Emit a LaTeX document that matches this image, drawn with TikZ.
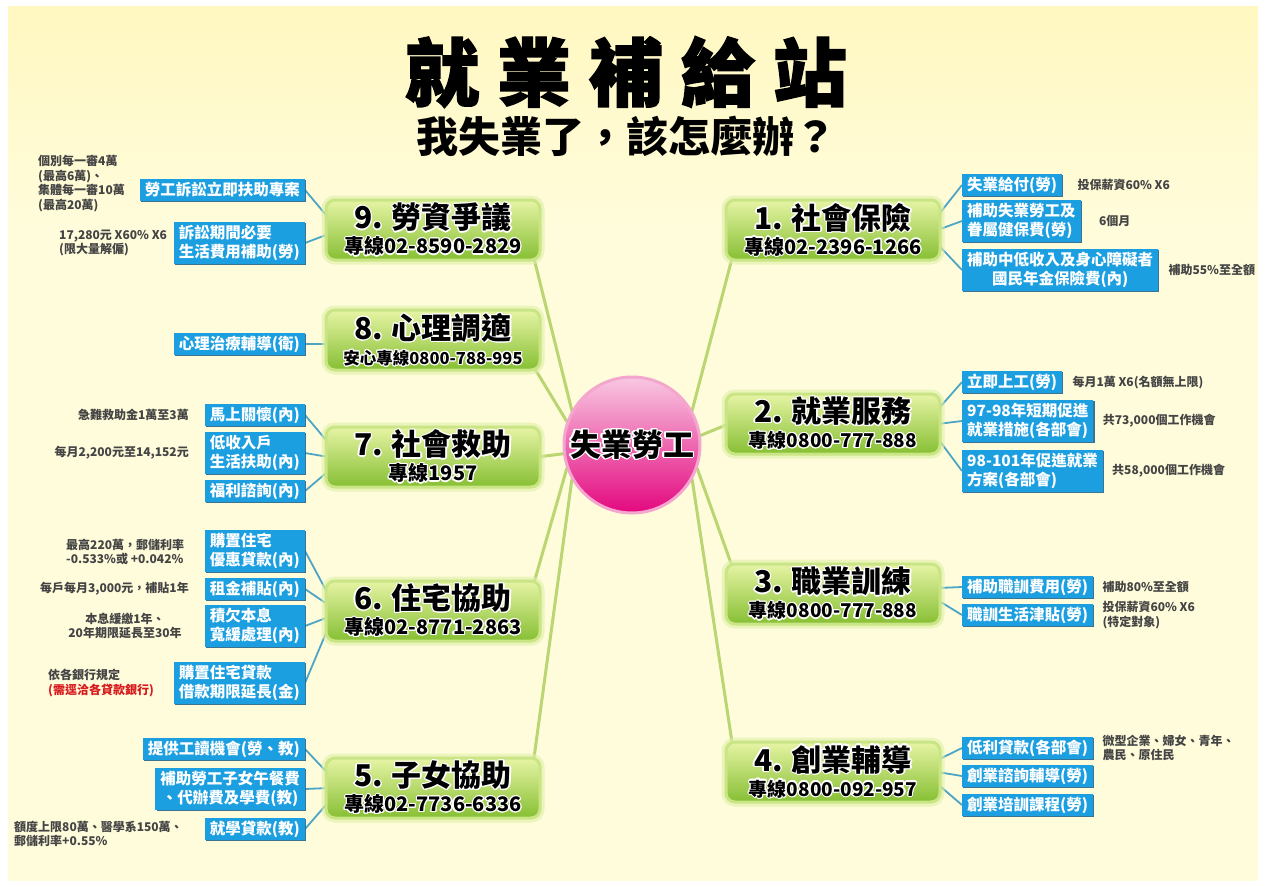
\documentclass[tikz,border=0pt]{standalone}
\usepackage{fontspec}
\setmainfont{Noto Sans CJK TC}
\newfontfamily\titlefont{Noto Sans CJK TC}[BoldFeatures={FakeBold=2}]
\usepackage{contour}
\contourlength{1.1pt}
\usetikzlibrary{shadows,calc}
\pgfdeclarelayer{back}
\pgfdeclarelayer{lines}
\pgfsetlayers{back,lines,main}
\definecolor{bgtop}{HTML}{FFF08C}
\definecolor{bgmid}{HTML}{FFFCDC}
\definecolor{bgbot}{HTML}{FFF3A6}
\definecolor{gtop}{HTML}{E6F4A4}
\definecolor{gbot}{HTML}{86BF33}
\definecolor{gedge}{HTML}{C9E585}
\definecolor{gglow}{HTML}{DDEFA6}
\definecolor{bluebox}{HTML}{1C9FE0}
\definecolor{blueshadow}{HTML}{27648A}
\definecolor{blueline}{HTML}{4DA5C6}
\definecolor{greenline}{HTML}{B9D673}
\definecolor{pinktop}{HTML}{F8C8E2}
\definecolor{pinkmid}{HTML}{F096C6}
\definecolor{pinkbot}{HTML}{E4087F}
\definecolor{pinkedge}{HTML}{F4A6CF}
\definecolor{annoc}{HTML}{444444}
\definecolor{annored}{HTML}{D7191C}
\pgfdeclareverticalshading{bgsh}{100bp}{color(0bp)=(bgbot); color(25bp)=(bgmid); color(62bp)=(bgmid); color(100bp)=(bgtop)}
\newcommand\gtext[3][20]{{\fontsize{30}{34}\selectfont\contour{white}{#2}}\\{\fontsize{#1}{24}\selectfont\contour{white}{#3}}}
\begin{document}
\begin{tikzpicture}[x=1pt,y=-1pt,
  gbox/.style={rounded corners=9pt, minimum width=214pt, minimum height=60pt,
    draw=gedge, line width=3pt, top color=gtop, bottom color=gbot, align=center,
    inner sep=2pt, font=\fontsize{20}{25}\selectfont\bfseries,
    preaction={draw=gglow, line width=9pt, opacity=0.6}},
  bbox/.style={fill=bluebox, text=white, font=\fontsize{15.5}{19}\selectfont\bfseries,
    inner xsep=5pt, inner ysep=3pt, align=left,
    drop shadow={shadow xshift=1.2pt, shadow yshift=-1.2pt, fill=blueshadow, opacity=0.9}},
  bone/.style={fill=bluebox, text=white, font=\fontsize{15.5}{19}\selectfont\bfseries,
    inner xsep=5pt, inner ysep=3pt, text height=13pt, text depth=3pt,
    drop shadow={shadow xshift=1.2pt, shadow yshift=-1.2pt, fill=blueshadow, opacity=0.9}},
  anno/.style={text=annoc, font=\fontsize{12}{14.5}\selectfont\bfseries, inner sep=0pt, align=left},
  bline/.style={draw=blueline, line width=1.8pt},
  gline/.style={draw=greenline, line width=3pt},
  circ/.style={circle, minimum size=136pt, draw=pinkedge, line width=3pt,
    top color=pinktop, middle color=pinkmid, bottom color=pinkbot,
    font=\fontsize{31}{31}\selectfont\bfseries, inner sep=0pt}]
\useasboundingbox (0,0) rectangle (1266,886);
\begin{pgfonlayer}{back}
\fill[white] (0,0) rectangle (1266,886);
\shade[shading=bgsh] (8,6) rectangle (1258,880);
\end{pgfonlayer}

% titles
\node (title) at (626,72) {\titlefont\bfseries\fontsize{74}{74}\selectfont 就\hspace{18pt}業\hspace{18pt}補\hspace{18pt}給\hspace{18pt}站};
\node (sub) at (626,136) {\bfseries\fontsize{42}{42}\selectfont 我失業了，該怎麼辦？};

% centre
\node[circ] (c) at (632,445) {\contour{white}{失業勞工}};

% green boxes
\node[gbox] (g9) at (433,230) {\gtext{9. 勞資爭議}{專線02-8590-2829}};
\node[gbox] (g8) at (433,340) {\gtext[16.5]{8. 心理調適}{安心專線0800-788-995}};
\node[gbox] (g7) at (433,457) {\gtext{7. 社會救助}{專線1957}};
\node[gbox] (g6) at (433,611) {\gtext{6. 住宅協助}{專線02-8771-2863}};
\node[gbox] (g5) at (433,788) {\gtext{5. 子女協助}{專線02-7736-6336}};
\node[gbox] (g1) at (833,230) {\gtext{1. 社會保險}{專線02-2396-1266}};
\node[gbox] (g2) at (833,424) {\gtext[19]{2. 就業服務}{專線0800-777-888}};
\node[gbox] (g3) at (833,594) {\gtext[19]{3. 職業訓練}{專線0800-777-888}};
\node[gbox] (g4) at (833,772) {\gtext[19]{4. 創業輔導}{專線0800-092-957}};

% left blue boxes
\node[bone, anchor=east] (b9a) at (305,190) {勞工訴訟立即扶助專案};
\node[bbox, anchor=east] (b9b) at (305,243) {訴訟期間必要\\生活費用補助(勞)};
\node[bone, anchor=east] (b8a) at (305,344) {心理治療輔導(衛)};
\node[bone, anchor=east] (b7a) at (305,415) {馬上關懷(內)};
\node[bbox, anchor=east] (b7b) at (305,453) {低收入戶\\生活扶助(內)};
\node[bone, anchor=east] (b7c) at (305,491) {福利諮詢(內)};
\node[bbox, anchor=east] (b6a) at (305,551) {購置住宅\\優惠貸款(內)};
\node[bone, anchor=east] (b6b) at (305,589) {租金補貼(內)};
\node[bbox, anchor=east] (b6c) at (305,626) {積欠本息\\寬緩處理(內)};
\node[bbox, anchor=east] (b6d) at (305,683) {購置住宅貸款\\借款期限延長(金)};
\node[bone, anchor=east] (b5a) at (305,749) {提供工讀機會(勞、教)};
\node[bbox, anchor=east, align=center] (b5b) at (305,789) {補助勞工子女午餐費\\、代辦費及學費(教)};
\node[bone, anchor=east] (b5c) at (305,829) {就學貸款(教)};

% right blue boxes
\node[bone, anchor=west] (b1a) at (962,185) {失業給付(勞)};
\node[bbox, anchor=west] (b1b) at (962,221) {補助失業勞工及\\眷屬健保費(勞)};
\node[bbox, anchor=west, align=center] (b1c) at (962,270) {補助中低收入及身心障礙者\\國民年金保險費(內)};
\node[bone, anchor=west] (b2a) at (962,382) {立即上工(勞)};
\node[bbox, anchor=west] (b2b) at (962,421) {97-98年短期促進\\就業措施(各部會)};
\node[bbox, anchor=west] (b2c) at (962,471) {98-101年促進就業\\方案(各部會)};
\node[bone, anchor=west] (b3a) at (962,587) {補助職訓費用(勞)};
\node[bone, anchor=west] (b3b) at (962,615) {職訓生活津貼(勞)};
\node[bone, anchor=west] (b4a) at (962,748) {低利貸款(各部會)};
\node[bone, anchor=west] (b4b) at (962,776) {創業諮詢輔導(勞)};
\node[bone, anchor=west] (b4c) at (962,805) {創業培訓課程(勞)};

% left annotations
\node[anno, anchor=north west] (a9a) at (38,155) {個別每一審4萬\\(最高6萬)、\\集體每一審10萬\\(最高20萬)};
\node[anno, anchor=west] (a9b) at (59,243) {17,280元 X60\% X6\\(限大量解僱)};
\node[anno, anchor=east] (a7a) at (189,415) {急難救助金1萬至3萬};
\node[anno, anchor=east] (a7b) at (189,453) {每月2,200元至14,152元};
\node[anno, anchor=west] (a6a) at (66,552) {最高220萬，郵儲利率\\-0.533\%或 +0.042\%};
\node[anno, anchor=east] (a6b) at (189,589) {每戶每月3,000元，補貼1年};
\node[anno, align=center] (a6c) at (125,626) {本息緩繳1年、\\20年期限延長至30年};
\node[anno, anchor=west] (a6d) at (48,683) {依各銀行規定\\{\color{annored}(需逕洽各貸款銀行)}};
\node[anno, anchor=west] (a5c) at (14,834) {額度上限80萬、醫學系150萬、\\郵儲利率+0.55\%};

% right annotations
\node[anno, anchor=west] (a1a) at ([xshift=15pt]b1a.east) {投保薪資60\% X6};
\node[anno, anchor=west] (a1b) at ([xshift=18pt]b1b.east) {6個月};
\node[anno, anchor=west] (a1c) at ([xshift=10pt]b1c.east) {補助55\%至全額};
\node[anno, anchor=west] (a2a) at ([xshift=10pt]b2a.east) {每月1萬 X6(名額無上限)};
\node[anno, anchor=west] (a2b) at ([xshift=9pt]b2b.east) {共73,000個工作機會};
\node[anno, anchor=west] (a2c) at ([xshift=9pt]b2c.east) {共58,000個工作機會};
\node[anno, anchor=west] (a3a) at ([xshift=9pt]b3a.east) {補助80\%至全額};
\node[anno, anchor=west] (a3b) at ([xshift=9pt]b3b.east) {投保薪資60\% X6\\(特定對象)};
\node[anno, anchor=west] (a4a) at ([xshift=9pt]b4a.east) {微型企業、婦女、青年、\\農民、原住民};

\begin{pgfonlayer}{lines}
% centre to green boxes
\draw[gline] (c.center) -- (c.150) -- ([xshift=-8pt,yshift=5pt]g9.south east);
\draw[gline] (c.center) -- (c.160) -- ([xshift=-8pt,yshift=5pt]g8.south east);
\draw[gline] (c.center) -- ([xshift=-4pt]g7.east);
\draw[gline] (c.center) -- (c.200) -- ([xshift=-8pt,yshift=-5pt]g6.north east);
\draw[gline] (c.center) -- (c.210) -- ([xshift=-8pt,yshift=-5pt]g5.north east);
\draw[gline] (c.center) -- (c.30) -- ([xshift=8pt,yshift=5pt]g1.south west);
\draw[gline] (c.center) -- (c.8) -- ([xshift=4pt]g2.west);
\draw[gline] (c.center) -- (c.-20) -- ([xshift=8pt,yshift=-5pt]g3.north west);
\draw[gline] (c.center) -- (c.-30) -- ([xshift=8pt,yshift=-5pt]g4.north west);
% blue connectors
\draw[bline] (b9a.east) -- ([xshift=4pt,yshift=12pt]g9.west);
\draw[bline] (b9b.east) -- ([xshift=4pt,yshift=-4pt]g9.west);
\draw[bline] (b8a.east) -- ([xshift=4pt,yshift=-4pt]g8.west);
\draw[bline] (b7a.east) -- ([xshift=4pt,yshift=14pt]g7.west);
\draw[bline] (b7b.east) -- ([xshift=4pt]g7.west);
\draw[bline] (b7c.east) -- ([xshift=4pt,yshift=-14pt]g7.west);
\draw[bline] (b6a.east) -- ([xshift=4pt,yshift=16pt]g6.west);
\draw[bline] (b6b.east) -- ([xshift=4pt,yshift=6pt]g6.west);
\draw[bline] (b6c.east) -- ([xshift=4pt,yshift=-6pt]g6.west);
\draw[bline] (b6d.east) -- ([xshift=4pt,yshift=-16pt]g6.west);
\draw[bline] (b5a.east) -- ([xshift=4pt,yshift=14pt]g5.west);
\draw[bline] (b5b.east) -- ([xshift=4pt]g5.west);
\draw[bline] (b5c.east) -- ([xshift=4pt,yshift=-14pt]g5.west);
\draw[bline] (b1a.west) -- ([xshift=-4pt,yshift=14pt]g1.east);
\draw[bline] (b1b.west) -- ([xshift=-4pt]g1.east);
\draw[bline] (b1c.west) -- ([xshift=-4pt,yshift=-14pt]g1.east);
\draw[bline] (b2a.west) -- ([xshift=-4pt,yshift=14pt]g2.east);
\draw[bline] (b2b.west) -- ([xshift=-4pt]g2.east);
\draw[bline] (b2c.west) -- ([xshift=-4pt,yshift=-14pt]g2.east);
\draw[bline] (b3a.west) -- ([xshift=-4pt,yshift=6pt]g3.east);
\draw[bline] (b3b.west) -- ([xshift=-4pt,yshift=-6pt]g3.east);
\draw[bline] (b4a.west) -- ([xshift=-4pt,yshift=12pt]g4.east);
\draw[bline] (b4b.west) -- ([xshift=-4pt]g4.east);
\draw[bline] (b4c.west) -- ([xshift=-4pt,yshift=-12pt]g4.east);
\end{pgfonlayer}
\end{tikzpicture}
\end{document}
